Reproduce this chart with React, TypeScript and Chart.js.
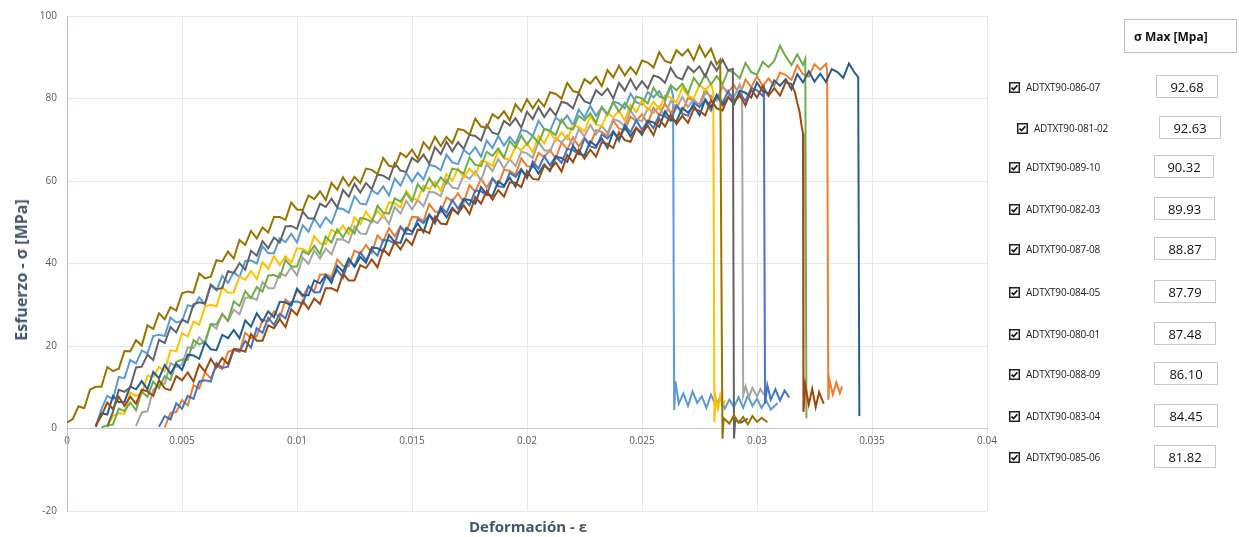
import React, { useEffect, useRef } from 'react';
import { Chart, registerables } from 'chart.js';

Chart.register(...registerables);

const FONT = '"Open Sans", "DejaVu Sans", sans-serif';

// Each point: [strain in ‰ (×10^-3), stress in MPa]
const s080_01: number[][] = [[1.25,0.5],[1.5,4.7],[1.75,7.9],[2,7.1],[2.25,12.5],[2.5,12.2],[2.75,16.6],[3,15.8],[3.25,18.9],[3.5,18.2],[3.75,22.4],[4,22.7],[4.25,22.4],[4.5,26.9],[4.75,25.7],[5,26.0],[5.25,29.9],[5.5,29.5],[5.75,31.8],[6,30.1],[6.25,34.6],[6.5,33.5],[6.75,37.0],[7,35.3],[7.25,37.9],[7.5,36.7],[7.75,40.6],[8,40.7],[8.25,40.0],[8.5,44.2],[8.75,42.5],[9,42.5],[9.25,46.1],[9.5,45.2],[9.75,47.2],[10,45.1],[10.25,49.3],[10.5,47.7],[10.75,50.9],[11,48.8],[11.25,51.2],[11.5,49.7],[11.75,53.4],[12,53.2],[12.25,52.3],[12.5,56.3],[12.75,54.5],[13,54.3],[13.25,57.8],[13.5,56.8],[13.75,58.7],[14,56.5],[14.25,60.6],[14.5,58.9],[14.75,62.0],[15,59.8],[15.25,62.0],[15.5,60.4],[15.75,63.9],[16,63.6],[16.25,62.6],[16.5,66.4],[16.75,64.5],[17,64.1],[17.25,67.5],[17.5,66.4],[17.75,68.2],[18,65.9],[18.25,69.8],[18.5,68.0],[18.75,70.9],[19,68.6],[19.25,70.7],[19.5,69.0],[19.75,72.4],[20,72.0],[20.25,70.9],[20.5,74.6],[20.75,72.6],[21,72.1],[21.25,75.4],[21.5,74.2],[21.75,75.9],[22,73.5],[22.25,77.3],[22.5,75.4],[22.75,78.2],[23,75.8],[23.25,77.8],[23.5,76.0],[23.75,79.3],[24,78.8],[24.25,77.6],[24.5,81.2],[24.75,79.1],[25,78.5],[25.25,81.6],[25.5,80.3],[25.75,81.8],[26,79.3],[26.25,83.0],[26.35,80.6],[26.4,4.5],[26.45,11.5],[26.6,6.0],[26.8,8.5],[27,5.5],[27.2,9.0],[27.4,6.2],[27.6,7.8],[27.8,5.0],[28,8.2],[28.2,5.6],[28.4,7.5],[28.6,4.8],[28.8,7.0],[29,5.2],[29.2,7.6],[29.4,5.0],[29.6,8.0],[29.8,5.5],[30,7.2],[30.2,5.0],[30.4,6.8],[30.6,4.6],[30.9,6.2]];
const s081_02: number[][] = [[4.25,0.3],[4.5,3.8],[4.75,4.0],[5,6.9],[5.25,5.6],[5.5,10.5],[5.75,9.7],[6,13.6],[6.25,12.2],[6.5,15.2],[6.75,14.4],[7,18.6],[7.25,19.0],[7.5,18.6],[7.75,23.2],[8,21.9],[8.25,22.3],[8.5,26.3],[8.75,26.0],[9,28.4],[9.25,26.8],[9.5,31.3],[9.75,30.1],[10,33.6],[10.25,31.9],[10.5,34.5],[10.75,33.4],[11,37.3],[11.25,37.4],[11.5,36.7],[11.75,41.0],[12,39.4],[12.25,39.4],[12.5,43.1],[12.75,42.4],[13,44.5],[13.25,42.6],[13.5,46.8],[13.75,45.4],[14,48.6],[14.25,46.6],[14.5,49.0],[14.75,47.6],[15,51.3],[15.25,51.2],[15.5,50.3],[15.75,54.4],[16,52.6],[16.25,52.4],[16.5,56.0],[16.75,55.1],[17,57.0],[17.25,54.9],[17.5,59.0],[17.75,57.4],[18,60.5],[18.25,58.4],[18.5,60.7],[18.75,59.1],[19,62.7],[19.25,62.5],[19.5,61.5],[19.75,65.5],[20,63.6],[20.25,63.3],[20.5,66.8],[20.75,65.8],[21,67.6],[21.25,65.4],[21.5,69.4],[21.75,67.6],[22,70.6],[22.25,68.4],[22.5,70.5],[22.75,68.9],[23,72.3],[23.25,71.9],[23.5,70.9],[23.75,74.7],[24,72.7],[24.25,72.3],[24.5,75.6],[24.75,74.5],[25,76.2],[25.25,73.9],[25.5,77.8],[25.75,75.9],[26,78.8],[26.25,76.5],[26.5,78.5],[26.75,76.8],[27,80.1],[27.25,79.6],[27.5,78.5],[27.75,82.2],[28,80.1],[28.25,79.6],[28.5,82.8],[28.75,81.6],[29,83.2],[29.25,80.8],[29.5,84.6],[29.75,82.7],[30,85.4],[30.25,83.0],[30.5,84.9],[30.75,83.1],[31,86.3],[31.25,85.7],[31.5,84.5],[31.75,88.1],[32,85.9],[32.25,85.3],[32.5,88.3],[32.75,87.0],[33,88.4],[33.05,86.8],[33.1,7.0],[33.15,11.8],[33.3,8.2],[33.45,11.2],[33.6,8.6],[33.7,10.2]];
const s082_03: number[][] = [[3,0.6],[3.25,3.9],[3.5,4.2],[3.75,9.4],[4,10.7],[4.25,10.9],[4.5,15.9],[4.75,14.9],[5,15.5],[5.25,19.7],[5.5,19.5],[5.75,22.1],[6,20.6],[6.25,25.3],[6.5,24.2],[6.75,27.8],[7,26.1],[7.25,28.8],[7.5,27.7],[7.75,31.7],[8,31.8],[8.25,31.2],[8.5,35.5],[8.75,34.0],[9,34.0],[9.25,37.7],[9.5,37.0],[9.75,39.1],[10,37.1],[10.25,41.4],[10.5,39.9],[10.75,43.2],[11,41.2],[11.25,43.6],[11.5,42.2],[11.75,45.9],[12,45.8],[12.25,45.0],[12.5,49.0],[12.75,47.3],[13,47.1],[13.25,50.6],[13.5,49.8],[13.75,51.7],[14,49.6],[14.25,53.7],[14.5,52.1],[14.75,55.2],[15,53.1],[15.25,55.4],[15.5,53.9],[15.75,57.4],[16,57.2],[16.25,56.3],[16.5,60.2],[16.75,58.4],[17,58.1],[17.25,61.5],[17.5,60.5],[17.75,62.3],[18,60.1],[18.25,64.1],[18.5,62.4],[18.75,65.3],[19,63.1],[19.25,65.3],[19.5,63.6],[19.75,67.1],[20,66.7],[20.25,65.6],[20.5,69.5],[20.75,67.5],[21,67.1],[21.25,70.4],[21.5,69.3],[21.75,71.0],[22,68.7],[22.25,72.6],[22.5,70.8],[22.75,73.6],[23,71.3],[23.25,73.4],[23.5,71.6],[23.75,75.0],[24,74.5],[24.25,73.3],[24.5,77.1],[24.75,75.0],[25,74.5],[25.25,77.7],[25.5,76.5],[25.75,78.1],[26,75.7],[26.25,79.5],[26.5,77.6],[26.75,80.4],[27,77.9],[27.25,79.9],[27.5,78.0],[27.75,81.3],[28,80.7],[28.25,79.5],[28.5,83.1],[28.75,80.9],[29,80.3],[29.25,83.4],[29.35,81.4],[29.4,8.0],[29.5,10.2],[29.65,7.6],[29.8,9.8],[30,7.8],[30.15,9.6],[30.3,8.2]];
const s083_04: number[][] = [[1.75,0.3],[2,3.1],[2.25,3.7],[2.5,3.6],[2.75,8.7],[3,7.9],[3.25,8.5],[3.5,12.8],[3.75,12.5],[4,14.9],[4.25,13.9],[4.5,19.0],[4.75,18.7],[5,23.1],[5.25,22.3],[5.5,25.9],[5.75,25.2],[6,29.6],[6.25,30.0],[6.5,29.6],[6.75,34.2],[7,32.9],[7.25,33.0],[7.5,36.8],[7.75,36.1],[8,38.2],[8.25,36.2],[8.5,40.3],[8.75,38.7],[9,41.8],[9.25,39.6],[9.5,41.8],[9.75,40.2],[10,43.7],[10.25,43.5],[10.5,42.7],[10.75,46.7],[11,44.9],[11.25,44.7],[11.5,48.2],[11.75,47.3],[12,49.2],[12.25,47.1],[12.5,51.2],[12.75,49.5],[13,52.6],[13.25,50.5],[13.5,52.8],[13.75,51.2],[14,54.8],[14.25,54.6],[14.5,53.6],[14.75,57.6],[15,55.7],[15.25,55.5],[15.5,58.9],[15.75,58.0],[16,59.8],[16.25,57.6],[16.5,61.7],[16.75,60.0],[17,63.0],[17.25,60.8],[17.5,63.0],[17.75,61.4],[18,64.9],[18.25,64.6],[18.5,63.6],[18.75,67.4],[19,65.5],[19.25,65.2],[19.5,68.5],[19.75,67.5],[20,69.2],[20.25,66.9],[20.5,70.9],[20.75,69.1],[21,72.0],[21.25,69.7],[21.5,71.8],[21.75,70.1],[22,73.5],[22.25,73.1],[22.5,72.0],[22.75,75.7],[23,73.7],[23.25,73.3],[23.5,76.5],[23.75,75.4],[24,77.0],[24.25,74.7],[24.5,78.5],[24.75,76.7],[25,79.5],[25.25,77.1],[25.5,79.2],[25.75,77.4],[26,80.7],[26.25,80.2],[26.5,79.0],[26.75,82.7],[27,80.6],[27.25,80.1],[27.5,83.3],[27.75,82.0],[28,83.6],[28.1,81.6],[28.15,1.5],[28.2,7.5],[28.3,4.8],[28.4,8.0],[28.5,5.2],[28.6,6.8]];
const s084_05: number[][] = [[4,0.4],[4.25,3.0],[4.5,2.2],[4.75,6.1],[5,4.8],[5.25,7.9],[5.5,7.2],[5.75,11.4],[6,11.7],[6.25,11.4],[6.5,15.9],[6.75,14.7],[7,15.0],[7.25,19.1],[7.5,18.7],[7.75,21.2],[8,19.6],[8.25,24.3],[8.5,23.2],[8.75,26.8],[9,25.1],[9.25,27.8],[9.5,26.7],[9.75,30.7],[10,30.8],[10.25,30.2],[10.5,34.5],[10.75,33.0],[11,33.1],[11.25,36.9],[11.5,36.2],[11.75,38.4],[12,36.5],[12.25,40.8],[12.5,39.4],[12.75,42.7],[13,40.8],[13.25,43.3],[13.5,41.9],[13.75,45.7],[14,45.6],[14.25,44.8],[14.5,48.9],[14.75,47.2],[15,47.1],[15.25,50.7],[15.5,49.8],[15.75,51.8],[16,49.7],[16.25,53.8],[16.5,52.3],[16.75,55.4],[17,53.3],[17.25,55.6],[17.5,54.1],[17.75,57.7],[18,57.5],[18.25,56.6],[18.5,60.6],[18.75,58.7],[19,58.5],[19.25,62.0],[19.5,61.0],[19.75,62.9],[20,60.7],[20.25,64.7],[20.5,63.0],[20.75,66.0],[21,63.8],[21.25,66.0],[21.5,64.4],[21.75,67.8],[22,67.5],[22.25,66.5],[22.5,70.3],[22.75,68.4],[23,68.0],[23.25,71.3],[23.5,70.3],[23.75,72.0],[24,69.7],[24.25,73.6],[24.5,71.8],[24.75,74.7],[25,72.4],[25.25,74.5],[25.5,72.8],[25.75,76.1],[26,75.7],[26.25,74.6],[26.5,78.3],[26.75,76.3],[27,75.8],[27.25,79.0],[27.5,77.9],[27.75,79.5],[28,77.1],[28.25,80.9],[28.5,79.0],[28.75,81.8],[29,79.3],[29.25,81.3],[29.5,79.4],[29.75,82.6],[30,82.0],[30.25,80.6],[30.3,81.8],[30.35,6.0],[30.45,10.5],[30.6,7.0],[30.8,9.5],[31,6.8],[31.2,9.2],[31.4,7.5]];
const s085_06: number[][] = [[1.5,0.3],[1.75,0.7],[2,1.0],[2.25,4.8],[2.5,4.2],[2.75,6.3],[3,4.4],[3.25,8.9],[3.5,7.7],[3.75,11.4],[4,9.8],[4.25,12.7],[4.5,11.7],[4.75,16.1],[5,16.7],[5.25,16.6],[5.5,21.4],[5.75,20.4],[6,21.0],[6.25,25.3],[6.5,25.2],[6.75,27.7],[7,26.1],[7.25,30.8],[7.5,29.7],[7.75,33.3],[8,31.6],[8.25,34.3],[8.5,33.2],[8.75,37.1],[9,37.2],[9.25,36.6],[9.5,40.9],[9.75,39.3],[10,39.3],[10.25,43.0],[10.5,42.2],[10.75,44.3],[11,42.3],[11.25,46.5],[11.5,45.1],[11.75,48.3],[12,46.3],[12.25,48.7],[12.5,47.3],[12.75,51.0],[13,50.8],[13.25,50.0],[13.5,54.0],[13.75,52.3],[14,52.1],[14.25,55.8],[14.5,55.0],[14.75,57.1],[15,55.1],[15.25,59.2],[15.5,57.6],[15.75,60.7],[16,58.6],[16.25,60.9],[16.5,59.4],[16.75,63.0],[17,62.7],[17.25,61.8],[17.5,65.7],[17.75,63.9],[18,63.6],[18.25,67.1],[18.5,66.1],[18.75,67.9],[19,65.7],[19.25,69.7],[19.5,68.0],[19.75,71.0],[20,68.8],[20.25,70.9],[20.5,69.2],[20.75,72.6],[21,72.2],[21.25,71.1],[21.5,74.9],[21.75,72.9],[22,72.5],[22.25,75.8],[22.5,74.7],[22.75,76.4],[23,74.1],[23.25,78.0],[23.5,76.2],[23.75,79.1],[24,76.8],[24.25,78.9],[24.5,77.1],[24.75,80.5],[25,80.0],[25.25,78.8],[25.5,82.6],[25.75,80.5],[26,80.0],[26.25,83.2],[26.5,82.0],[26.75,83.6],[27,81.2],[27.25,85.0],[27.5,83.1],[27.75,85.9],[28,83.4],[28.25,85.4],[28.5,83.5],[28.75,86.8],[29,86.2],[29.25,84.9],[29.5,88.6],[29.75,86.4],[30,85.8],[30.25,88.9],[30.5,87.6],[30.75,89.1],[31,92.8],[31.25,90.2],[31.5,88.1],[31.75,90.7],[32,88.1],[32.1,89.6],[32.15,2.5]];
const s086_07: number[][] = [[1.25,0.4],[1.5,3.7],[1.75,3.4],[2,7.9],[2.25,6.4],[2.5,6.5],[2.75,10.2],[3,9.5],[3.25,11.5],[3.5,9.5],[3.75,13.7],[4,12.2],[4.25,15.4],[4.5,13.3],[4.75,15.7],[5,14.2],[5.25,17.9],[5.5,17.7],[5.75,16.9],[6,20.9],[6.25,19.2],[6.5,19.0],[6.75,22.7],[7,21.9],[7.25,23.9],[7.5,21.9],[7.75,26.2],[8,24.7],[8.25,27.9],[8.5,25.9],[8.75,28.4],[9,27.0],[9.25,30.7],[9.5,30.6],[9.75,29.8],[10,33.9],[10.25,32.3],[10.5,32.3],[10.75,35.9],[11,35.2],[11.25,37.2],[11.5,35.3],[11.75,39.5],[12,38.0],[12.25,41.2],[12.5,39.2],[12.75,41.6],[13,40.2],[13.25,43.9],[13.5,43.7],[13.75,42.9],[14,46.9],[14.25,45.2],[14.5,45.0],[14.75,48.6],[15,47.7],[15.25,49.7],[15.5,47.6],[15.75,51.8],[16,50.2],[16.25,53.3],[16.5,51.2],[16.75,53.5],[17,52.0],[17.25,55.6],[17.5,55.4],[17.75,54.5],[18,58.5],[18.25,56.7],[18.5,56.4],[18.75,59.9],[19,58.9],[19.25,60.8],[19.5,58.6],[19.75,62.7],[20,61.0],[20.25,64.0],[20.5,61.8],[20.75,64.0],[21,62.4],[21.25,65.9],[21.5,65.6],[21.75,64.6],[22,68.5],[22.25,66.6],[22.5,66.2],[22.75,69.6],[23,68.5],[23.25,70.3],[23.5,68.0],[23.75,72.0],[24,70.2],[24.25,73.1],[24.5,70.8],[24.75,72.9],[25,71.2],[25.25,74.6],[25.5,74.2],[25.75,73.1],[26,76.9],[26.25,74.9],[26.5,74.5],[26.75,77.7],[27,76.6],[27.25,78.3],[27.5,75.9],[27.75,79.8],[28,77.9],[28.25,80.8],[28.5,78.4],[28.75,80.4],[29,78.6],[29.25,81.9],[29.5,81.4],[29.75,80.2],[30,83.9],[30.25,81.8],[30.5,81.2],[30.75,84.4],[31,83.1],[31.25,84.7],[31.5,82.2],[31.75,85.9],[32,83.9],[32.25,86.6],[32.5,84.1],[32.75,86.0],[33,84.0],[33.25,87.1],[33.5,86.4],[33.75,85.0],[34,88.5],[34.25,86.2],[34.4,85.2],[34.45,3.0]];
const s087_08: number[][] = [[1.25,0.8],[1.5,3.1],[1.75,6.3],[2,4.7],[2.25,7.7],[2.5,5.5],[2.75,7.7],[3,6.0],[3.25,9.4],[3.5,9.0],[3.75,7.9],[4,11.7],[4.25,9.7],[4.5,9.3],[4.75,12.7],[5,11.7],[5.25,13.6],[5.5,11.4],[5.75,15.5],[6,13.8],[6.25,16.9],[6.5,14.8],[6.75,17.1],[7,15.6],[7.25,19.3],[7.5,19.1],[7.75,18.6],[8,22.9],[8.25,21.3],[8.5,21.3],[8.75,25.0],[9,24.3],[9.25,26.5],[9.5,24.6],[9.75,28.9],[10,27.5],[10.25,30.9],[10.5,29.0],[10.75,31.5],[11,30.2],[11.25,34.0],[11.5,34.0],[11.75,33.3],[12,37.5],[12.25,35.9],[12.5,35.9],[12.75,39.6],[13,38.9],[13.25,41.0],[13.5,39.1],[13.75,43.4],[14,42.0],[14.25,45.3],[14.5,43.4],[14.75,45.9],[15,44.5],[15.25,48.2],[15.5,48.1],[15.75,47.3],[16,51.4],[16.25,49.7],[16.5,49.5],[16.75,53.1],[17,52.2],[17.25,54.1],[17.5,52.0],[17.75,56.1],[18,54.5],[18.25,57.6],[18.5,55.5],[18.75,57.8],[19,56.2],[19.25,59.7],[19.5,59.5],[19.75,58.5],[20,62.4],[20.25,60.5],[20.5,60.3],[20.75,63.7],[21,62.7],[21.25,64.5],[21.5,62.3],[21.75,66.3],[22,64.6],[22.25,67.6],[22.5,65.4],[22.75,67.6],[23,65.9],[23.25,69.4],[23.5,69.0],[23.75,68.0],[24,71.8],[24.25,69.9],[24.5,69.5],[24.75,72.8],[25,71.7],[25.25,73.4],[25.5,71.1],[25.75,75.0],[26,73.2],[26.25,76.1],[26.5,73.8],[26.75,75.8],[27,74.1],[27.25,77.5],[27.5,77.0],[27.75,75.9],[28,79.6],[28.25,77.6],[28.5,77.1],[28.75,80.3],[29,79.1],[29.25,80.7],[29.5,78.3],[29.75,82.1],[30,80.2],[30.25,83.0],[30.5,80.6],[30.75,82.5],[31,80.7],[31.25,84.0],[31.5,83.5],[31.65,81.5],[31.75,79.0],[31.85,76.8],[31.95,73.0],[32.0,71.5],[32.02,4.0],[32.1,10.5],[32.25,5.8],[32.4,9.6],[32.55,5.2],[32.7,8.8],[32.9,6.0]];
const s088_09: number[][] = [[1.75,0.5],[2,4.1],[2.25,9.4],[2.5,8.9],[2.75,10.0],[3,14.8],[3.25,15.0],[3.5,17.9],[3.75,16.6],[4,21.5],[4.25,20.7],[4.5,24.6],[4.75,23.3],[5,26.4],[5.25,25.7],[5.5,30.1],[5.75,30.6],[6,30.3],[6.25,34.9],[6.5,33.7],[6.75,34.1],[7,38.1],[7.25,37.7],[7.5,40.1],[7.75,38.5],[8,43.1],[8.25,41.9],[8.5,45.4],[8.75,43.7],[9,46.3],[9.25,45.1],[9.5,49.0],[9.75,49.1],[10,48.4],[10.25,52.6],[10.5,50.9],[10.75,50.9],[11,54.5],[11.25,53.7],[11.5,55.7],[11.75,53.6],[12,57.8],[12.25,56.2],[12.5,59.3],[12.75,57.2],[13,59.5],[13.25,58.0],[13.5,61.6],[13.75,61.3],[14,60.4],[14.25,64.3],[14.5,62.5],[14.75,62.2],[15,65.6],[15.25,64.6],[15.5,66.4],[15.75,64.2],[16,68.2],[16.25,66.5],[16.5,69.5],[16.75,67.2],[17,69.4],[17.25,67.8],[17.5,71.2],[17.75,70.9],[18,69.8],[18.25,73.6],[18.5,71.7],[18.75,71.3],[19,74.6],[19.25,73.5],[19.5,75.2],[19.75,72.9],[20,76.8],[20.25,75.0],[20.5,77.9],[20.75,75.5],[21,77.6],[21.25,75.9],[21.5,79.2],[21.75,78.8],[22,77.6],[22.25,81.3],[22.5,79.3],[22.75,78.8],[23,82.0],[23.25,80.8],[23.5,82.4],[23.75,80.0],[24,83.8],[24.25,81.9],[24.5,84.7],[24.75,82.2],[25,84.2],[25.25,82.4],[25.5,85.6],[25.75,85.1],[26,83.8],[26.25,87.4],[26.5,85.2],[26.75,84.6],[27,87.7],[27.25,86.4],[27.5,87.8],[27.75,85.3],[28,88.9],[28.25,86.8],[28.5,89.4],[28.75,86.8],[28.95,87.2],[29.0,-2.4],[29.05,2.0],[29.3,1.4],[29.6,2.4]];
const s089_10: number[][] = [[0,1.5],[0.25,2.3],[0.5,5.4],[0.75,4.9],[1,9.4],[1.25,10.1],[1.5,10.1],[1.75,14.9],[2,13.9],[2.25,14.5],[2.5,18.8],[2.75,18.7],[3,21.4],[3.25,20.1],[3.5,25.0],[3.75,24.1],[4,27.9],[4.25,26.5],[4.5,29.4],[4.75,28.6],[5,32.8],[5.25,33.2],[5.5,32.9],[5.75,37.6],[6,36.4],[6.25,36.8],[6.5,40.8],[6.75,40.5],[7,42.9],[7.25,41.2],[7.5,45.7],[7.75,44.5],[8,47.9],[8.25,46.1],[8.5,48.7],[8.75,47.5],[9,51.3],[9.25,51.3],[9.5,50.6],[9.75,54.8],[10,53.1],[10.25,53.0],[10.5,56.5],[10.75,55.6],[11,57.5],[11.25,55.4],[11.5,59.5],[11.75,57.9],[12,60.9],[12.25,58.8],[12.5,61.0],[12.75,59.5],[13,63.0],[13.25,62.7],[13.5,61.7],[13.75,65.6],[14,63.7],[14.25,63.4],[14.5,66.8],[14.75,65.8],[15,67.6],[15.25,65.4],[15.5,69.4],[15.75,67.7],[16,70.7],[16.25,68.5],[16.5,70.7],[16.75,69.1],[17,72.6],[17.25,72.3],[17.5,71.2],[17.75,75.1],[18,73.2],[18.25,72.9],[18.5,76.2],[18.75,75.2],[19,76.9],[19.25,74.7],[19.5,78.6],[19.75,76.9],[20,79.8],[20.25,77.6],[20.5,79.7],[20.75,78.1],[21,81.5],[21.25,81.1],[21.5,80.0],[21.75,83.8],[22,81.8],[22.25,81.4],[22.5,84.7],[22.75,83.6],[23,85.3],[23.25,83.0],[23.5,86.9],[23.75,85.1],[24,87.9],[24.25,85.6],[24.5,87.6],[24.75,85.9],[25,89.2],[25.25,88.7],[25.5,87.5],[25.75,91.2],[26,89.1],[26.25,88.6],[26.5,91.7],[26.75,90.4],[27,91.9],[27.25,89.3],[27.5,92.8],[27.75,90.1],[28,92.1],[28.25,88.3],[28.4,89.4],[28.45,40],[28.5,-2.5],[28.55,2.5],[28.8,1.2],[29,3.2],[29.2,1.4],[29.4,2.8],[29.6,1.0],[29.8,3.0],[30,1.6],[30.2,2.6],[30.45,1.5]];

const seriesNames = ['ADTXT90-080-01','ADTXT90-081-02','ADTXT90-082-03','ADTXT90-083-04','ADTXT90-084-05','ADTXT90-085-06','ADTXT90-086-07','ADTXT90-087-08','ADTXT90-088-09','ADTXT90-089-10'];
const seriesData = [s080_01, s081_02, s082_03, s083_04, s084_05, s085_06, s086_07, s087_08, s088_09, s089_10];
const seriesColors = ['#5B9BD5','#ED7D31','#A5A5A5','#FFC000','#4472C4','#70AD47','#255E91','#9E480E','#636363','#997300'];

const legendLabels = ['ADTXT90-086-07','ADTXT90-081-02','ADTXT90-089-10','ADTXT90-082-03','ADTXT90-087-08','ADTXT90-084-05','ADTXT90-080-01','ADTXT90-088-09','ADTXT90-083-04','ADTXT90-085-06'];
const legendMax = ['92.68','92.63','90.32','89.93','88.87','87.79','87.48','86.10','84.45','81.82'];

const xMin = 0, xMax = 0.04, xStep = 0.005;
const yMin = -20, yMax = 100, yStep = 20;

// layout of the form-control legend
const rowY = [87, 128, 167, 209, 249, 292, 334, 374, 416, 457];
const checkX = [1009, 1017, 1009, 1009, 1009, 1009, 1009, 1009, 1009, 1009];
const boxX = [1156, 1159, 1154, 1154, 1154, 1154, 1154, 1154, 1154, 1154];
const boxW = [62, 62, 60, 61, 62, 62, 62, 64, 64, 62];

function CheckBox() {
  return (
    <svg width="11" height="11" viewBox="0 0 11 11" style={{ display: 'block' }}>
      <rect x="0.75" y="0.75" width="9.5" height="9.5" fill="#fff" stroke="#222" strokeWidth="1.5" />
      <polyline points="2.6,5.6 4.6,7.6 8.4,3.2" fill="none" stroke="#111" strokeWidth="1.7" />
    </svg>
  );
}

export default function App() {
  const ref = useRef<HTMLCanvasElement>(null);
  useEffect(() => {
    const datasets = seriesData.map((pts, i) => ({
      label: seriesNames[i],
      data: pts.map(([e, s]) => ({ x: e / 1000, y: s })),
      borderColor: seriesColors[i],
      backgroundColor: seriesColors[i],
      borderWidth: 2,
      pointRadius: 0,
      showLine: true,
      fill: false,
      tension: 0,
      order: seriesData.length - 1 - i,
    }));
    const chart = new Chart(ref.current!, {
      type: 'scatter',
      data: { datasets },
      options: {
        animation: false,
        responsive: false,
        maintainAspectRatio: false,
        layout: { padding: { left: 0, right: 252, top: 14, bottom: 26 } },
        plugins: { legend: { display: false }, tooltip: { enabled: false } },
        scales: {
          x: {
            type: 'linear',
            min: xMin,
            max: xMax,
            position: { y: 0 } as any,
            ticks: {
              stepSize: xStep,
              color: '#595959',
              font: { family: FONT, size: 10 },
              padding: 7,
              autoSkip: false,
              maxRotation: 0,
              callback: (v: any) => String(parseFloat(Number(v).toFixed(4))),
            },
            grid: { color: '#E3E7EE', drawTicks: false, lineWidth: 1 },
            border: { color: '#C3CBDA', width: 1 },
          },
          y: {
            type: 'linear',
            min: yMin,
            max: yMax,
            ticks: { stepSize: yStep, color: '#595959', font: { family: FONT, size: 10 }, padding: 10 },
            grid: { color: '#E3E7EE', drawTicks: false, lineWidth: 1 },
            border: { color: '#B3BDD0', width: 1 },
            afterFit: (scale: any) => { scale.width = 67; },
          },
        },
      },
    });
    return () => chart.destroy();
  }, []);

  return (
    <div style={{ position: 'absolute', left: 0, top: 0, width: 1239, height: 537, background: '#fff', fontFamily: FONT, overflow: 'hidden' }}>
      <canvas ref={ref} width={1239} height={537} style={{ position: 'absolute', left: 0, top: 0, width: 1239, height: 537 }} />
      <div style={{ position: 'absolute', left: 21, top: 270, transform: 'translate(-50%, -50%) rotate(-90deg)', whiteSpace: 'nowrap', fontWeight: 700, fontSize: 16, color: '#44546A' }}>
        Esfuerzo - σ [MPa]
      </div>
      <div style={{ position: 'absolute', left: 528, top: 526, transform: 'translate(-50%, -50%)', whiteSpace: 'nowrap', fontWeight: 700, fontSize: 15, color: '#44546A' }}>
        Deformación - ε
      </div>
      <div style={{ position: 'absolute', left: 1124, top: 19, width: 113, height: 34, boxSizing: 'border-box', border: '1px solid #BFBFBF', display: 'flex', alignItems: 'center', paddingLeft: 9, fontWeight: 700, fontSize: 12, color: '#111', whiteSpace: 'nowrap' }}>
        σ Max [Mpa]
      </div>
      {legendLabels.map((lab, i) => (
        <React.Fragment key={lab}>
          <div style={{ position: 'absolute', left: checkX[i], top: rowY[i] - 5.5 }}>
            <CheckBox />
          </div>
          <div style={{ position: 'absolute', left: checkX[i] + 17, top: rowY[i], transform: 'translateY(-50%)', fontSize: 10, color: '#222', whiteSpace: 'nowrap', letterSpacing: -0.2 }}>
            {lab}
          </div>
          <div style={{ position: 'absolute', left: boxX[i], top: rowY[i] - 12, width: boxW[i], height: 23, boxSizing: 'border-box', border: '1px solid #C8C8C8', display: 'flex', alignItems: 'center', justifyContent: 'center', fontSize: 13, color: '#111' }}>
            {legendMax[i]}
          </div>
        </React.Fragment>
      ))}
    </div>
  );
}
